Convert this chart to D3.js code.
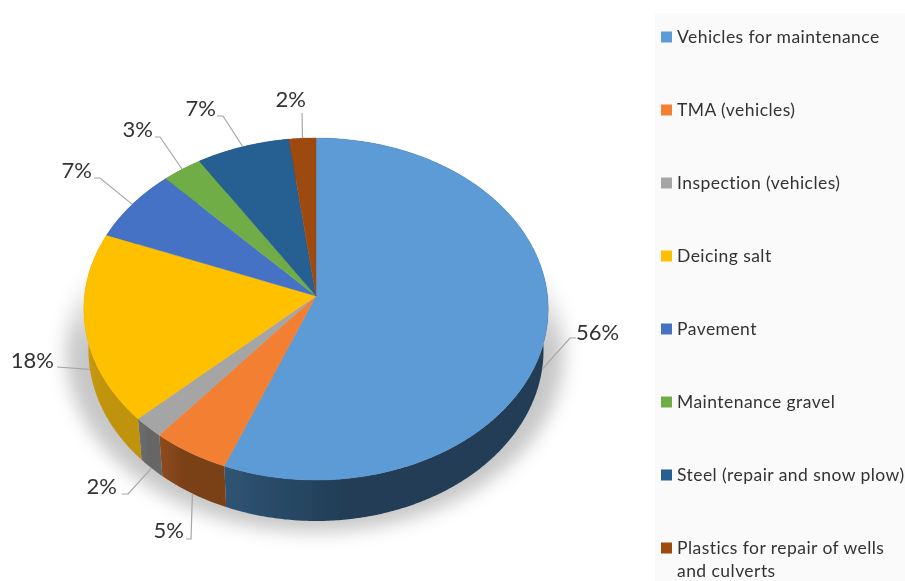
<!DOCTYPE html>
<html><head><meta charset="utf-8">
<script src="https://cdn.jsdelivr.net/npm/d3@7"></script>
<style>html,body{margin:0;padding:0;background:#fff}svg{display:block}</style></head>
<body><svg id="c" width="905" height="581"></svg>
<script>
// Data
const categories = ["Vehicles for maintenance","TMA (vehicles)","Inspection (vehicles)","Deicing salt","Pavement","Maintenance gravel","Steel (repair and snow plow)","Plastics for repair of wells and culverts"];
const values = [56,5,2,18,7,3,7,2];
const colors = ["#5b9bd5","#f38033","#a5a5a5","#ffc000","#4472c4","#70ad47","#255e91","#9e480e"];
const wallLeft = ["#2f5474","#8f4c1e","#6f6f6f","#c79a10","#2f4f88","#4d7731","#1a4265","#6e320a"];
const wallRight = ["#203c54","#7a3f17","#666666","#c09308","#2f4f88","#4d7731","#1a4265","#6e320a"];

// Layout (not data)
const W=905,H=581,cx=316,cy=296,A=231.5,B=170,K=0.076,DEPTH=41,BOTTOM_SCALE=0.98;
const elbows=[[[570,338],[576,338]],[[191,539],[186,539]],[[128,494],[122,494]],[[57,367],[57,367]],[[100,178],[94,178]],[[160,137],[155,137]],[[223,116],[217,116]],[[302,113],[302,113]]];
const labelPos=[[576,332,"start"],[184,530,"end"],[117,486,"end"],[54,360,"end"],[92,170,"end"],[153,129,"end"],[216,108,"end"],[306,99,"end"]];
const legendY=[37,110,183,256,329,402,475,548];

const svg=d3.select("#c");
const defs=svg.append("defs");
defs.append("filter").attr("id","soft").attr("x","-10%").attr("y","-10%").attr("width","120%").attr("height","120%")
  .append("feGaussianBlur").attr("stdDeviation",0.5);
defs.append("filter").attr("id","shadow").attr("x","-20%").attr("y","-20%").attr("width","140%").attr("height","140%")
  .append("feGaussianBlur").attr("stdDeviation",9);
const fade=defs.append("linearGradient").attr("id","shadowFade").attr("x1",0).attr("x2",0).attr("y1",0).attr("y2",1);
fade.append("stop").attr("offset",0.25).attr("stop-color","#000").attr("stop-opacity",0);
fade.append("stop").attr("offset",.48).attr("stop-color","#000").attr("stop-opacity",.22);
fade.append("stop").attr("offset",1).attr("stop-color","#000").attr("stop-opacity",.22);

function project(a,scale=1){ // a: clockwise from top
  const u=Math.sin(a),v=-Math.cos(a),d=1-K*v;
  return [cx+scale*A*u/d, cy+B*v/d];
}
function lower(a){const p=project(a,BOTTOM_SCALE);return [p[0],p[1]+DEPTH];}
const line=d3.line();
const pie=d3.pie().sort(null).value(d=>d).startAngle(0).endAngle(2*Math.PI);
const arcs=pie(values);
const arcPts=(s,e,f)=>{const n=Math.max(2,Math.ceil((e-s)/0.01));return d3.range(n+1).map(i=>f(s+(e-s)*i/n));};

const root=svg.append("g").attr("filter","url(#soft)");
root.append("rect").attr("x",655).attr("y",13).attr("width",250).attr("height",568).attr("fill","#fafafa");

// shadow
root.append("ellipse").attr("cx",cx-1).attr("cy",352).attr("rx",249).attr("ry",180)
  .attr("fill","url(#shadowFade)").attr("filter","url(#shadow)");

// walls
arcs.forEach((d,i)=>{
  const g=defs.append("linearGradient").attr("id","wall"+i).attr("gradientUnits","objectBoundingBox");
  g.append("stop").attr("offset",0).attr("stop-color",wallLeft[i]);
  g.append("stop").attr("offset",.4).attr("stop-color",wallRight[i]);
  const pts=arcPts(d.startAngle,d.endAngle,project).concat(arcPts(d.startAngle,d.endAngle,lower).reverse());
  root.append("path").attr("d",line(pts)+"Z").attr("fill",`url(#wall${i})`);
});
// top faces
root.selectAll("path.top").data(arcs).join("path").attr("class","top")
  .attr("d",d=>line([[cx,cy]].concat(arcPts(d.startAngle,d.endAngle,project)))+"Z")
  .attr("fill",(d,i)=>colors[i]).attr("stroke",(d,i)=>colors[i]).attr("stroke-width",.4);

// leaders
arcs.forEach((d,i)=>{
  const m=(d.startAngle+d.endAngle)/2;
  const start=-Math.cos(m)>0.1?lower(m):project(m);
  root.append("path").attr("d",line([start,...elbows[i]])).attr("fill","none").attr("stroke","#a6a6a6").attr("stroke-width",1.2);
});
// labels
const total=d3.sum(values);
root.selectAll("text.lab").data(values).join("text").attr("class","lab")
  .attr("x",(d,i)=>labelPos[i][0]).attr("y",(d,i)=>labelPos[i][1]+7.5).attr("text-anchor",(d,i)=>labelPos[i][2])
  .attr("font-family","Lato, 'Open Sans', sans-serif").attr("font-size",22).attr("fill","#333")
  .text(d=>Math.round(d/total*100)+"%");

// legend
categories.forEach((c,i)=>{
  const y=legendY[i];
  root.append("rect").attr("x",661).attr("y",y-5.5).attr("width",11).attr("height",11).attr("fill",colors[i]);
  const t=root.append("text").attr("x",677).attr("y",y+5.5).attr("font-family","Lato, 'Open Sans', sans-serif")
    .attr("font-size",17.5).attr("letter-spacing",.45).attr("fill","#333");
  if(i===7){
    t.append("tspan").attr("x",677).text("Plastics for repair of wells");
    t.append("tspan").attr("x",677).attr("dy",23).text("and culverts");
  } else t.text(c);
});
</script></body></html>
